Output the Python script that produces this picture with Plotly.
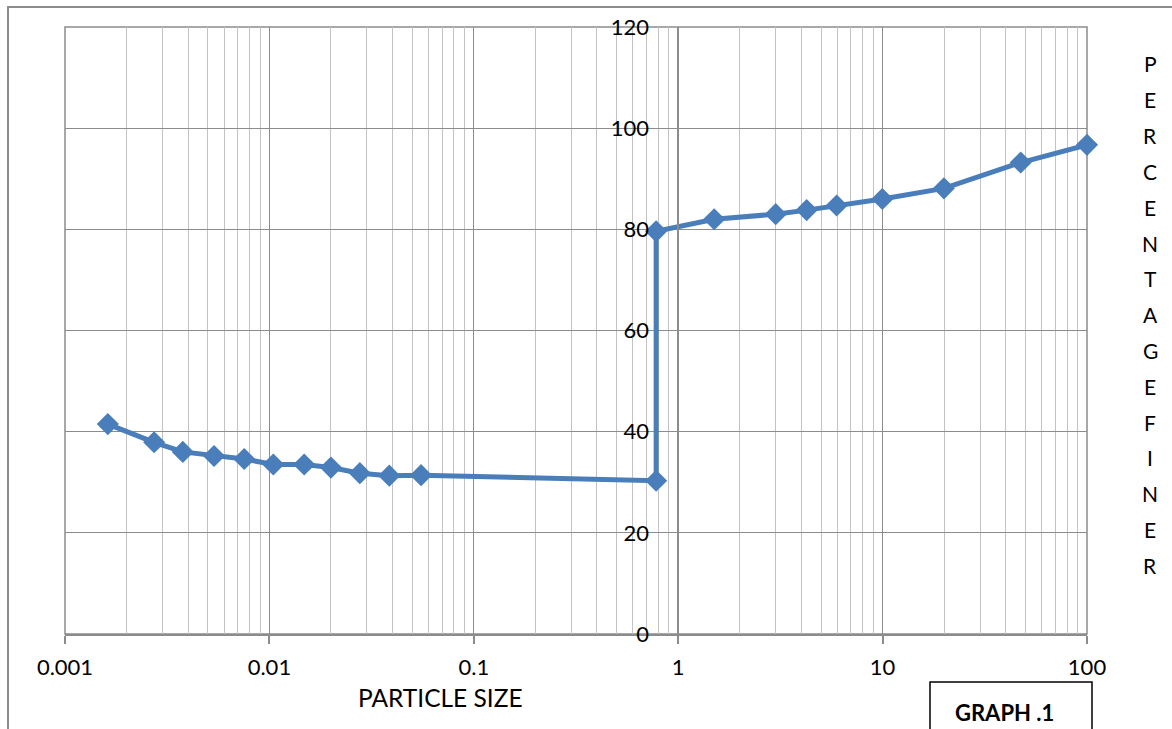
import plotly.graph_objects as go

# Grain-size distribution: particle size (log scale) vs percentage finer
particle_size = [0.00162, 0.00273, 0.00377, 0.00536, 0.00753, 0.01045, 0.0148,
                 0.0200, 0.0277, 0.0386, 0.0552, 0.78, 0.78, 1.50, 3.00, 4.25,
                 5.96, 9.97, 19.95, 47.4, 100.0]
percent_finer = [41.5, 37.9, 36.0, 35.2, 34.6, 33.5, 33.5, 32.9, 31.8, 31.3,
                 31.4, 30.3, 79.6, 82.0, 83.0, 83.8, 84.7, 86.0, 88.1, 93.2, 96.7]

x_tick_vals = [0.001, 0.01, 0.1, 1, 10, 100]
x_tick_text = ["0.001", "0.01", "0.1", "1", "10", "100"]
y_tick_vals = [0, 20, 40, 60, 80, 100, 120]

side_title = "PERCENTAGE FINER"

FONT = "Lato"
BLUE = "#4a7ebb"
MAJOR = "#8c8c8c"
MINOR = "#c3c3c3"

W, H = 1172, 729
ML, MR, MT, MB = 65, 85, 27, 95
PW, PH = W - ML - MR, H - MT - MB

# minor log gridlines at 2..9 within each decade
minor_vals = [k * 10.0 ** d for d in range(-3, 2) for k in range(2, 10)]


def px_x(p):
    return (p - ML) / PW


def px_y(p):
    return (H - MB - p) / PH


fig = go.Figure()
fig.add_trace(go.Scatter(
    x=particle_size, y=percent_finer, mode="lines+markers",
    line=dict(color=BLUE, width=5),
    marker=dict(symbol="diamond", size=17, color=BLUE),
    showlegend=False, cliponaxis=False,
))


def label(text, x, y, size):
    return dict(text=text, x=px_x(x), y=px_y(y), xref="paper", yref="paper",
                xanchor="center", yanchor="middle", showarrow=False,
                font=dict(family=FONT, size=size, color="#000000"))


annotations = [
    label("PARTICLE SIZE", 440, 697, 24.5),
    label("<b>GRAPH .1</b>", 1004, 712, 22),
]
letters = [c for c in side_title if c != " "]
for i, c in enumerate(letters):
    annotations.append(label(c, 1150, 64 + i * 35.8, 21))

shapes = [
    # plot-area frame
    dict(type="rect", xref="x domain", yref="y domain", x0=0, x1=1, y0=0, y1=1,
         line=dict(color=MAJOR, width=1.5), layer="below"),
    # outer chart frame
    dict(type="rect", xref="paper", yref="paper", x0=px_x(8), x1=px_x(1190),
         y0=px_y(760), y1=px_y(7), line=dict(color=MAJOR, width=2)),
    # caption box
    dict(type="rect", xref="paper", yref="paper", x0=px_x(930), x1=px_x(1092),
         y0=px_y(760), y1=px_y(682), line=dict(color="#000000", width=1.5)),
]

fig.update_layout(
    width=W, height=H,
    margin=dict(l=ML, r=MR, t=MT, b=MB),
    paper_bgcolor="white", plot_bgcolor="white",
    font=dict(family=FONT, size=22, color="#000000"),
    xaxis=dict(
        type="log", range=[-3, 2],
        tickvals=x_tick_vals, ticktext=x_tick_text,
        showgrid=True, gridcolor=MAJOR, gridwidth=1.3,
        minor=dict(tickmode="array", tickvals=minor_vals, showgrid=True,
                   gridcolor=MINOR, gridwidth=1.3, ticks=""),
        ticks="outside", ticklen=8, tickcolor=MAJOR, tickwidth=1.5,
        showline=True, linecolor=MAJOR, linewidth=1.5,
        zeroline=False, ticklabelstandoff=5,
        tickfont=dict(family=FONT, size=22),
    ),
    yaxis=dict(
        range=[0, 120], tickvals=y_tick_vals,
        anchor="free", position=0.6,
        showgrid=True, gridcolor=MAJOR, gridwidth=1.3,
        showline=True, linecolor=MAJOR, linewidth=1.5,
        ticks="", zeroline=False, ticklabelstandoff=24,
        tickfont=dict(family=FONT, size=22),
    ),
    annotations=annotations,
    shapes=shapes,
)

fig.write_html("out.html")
